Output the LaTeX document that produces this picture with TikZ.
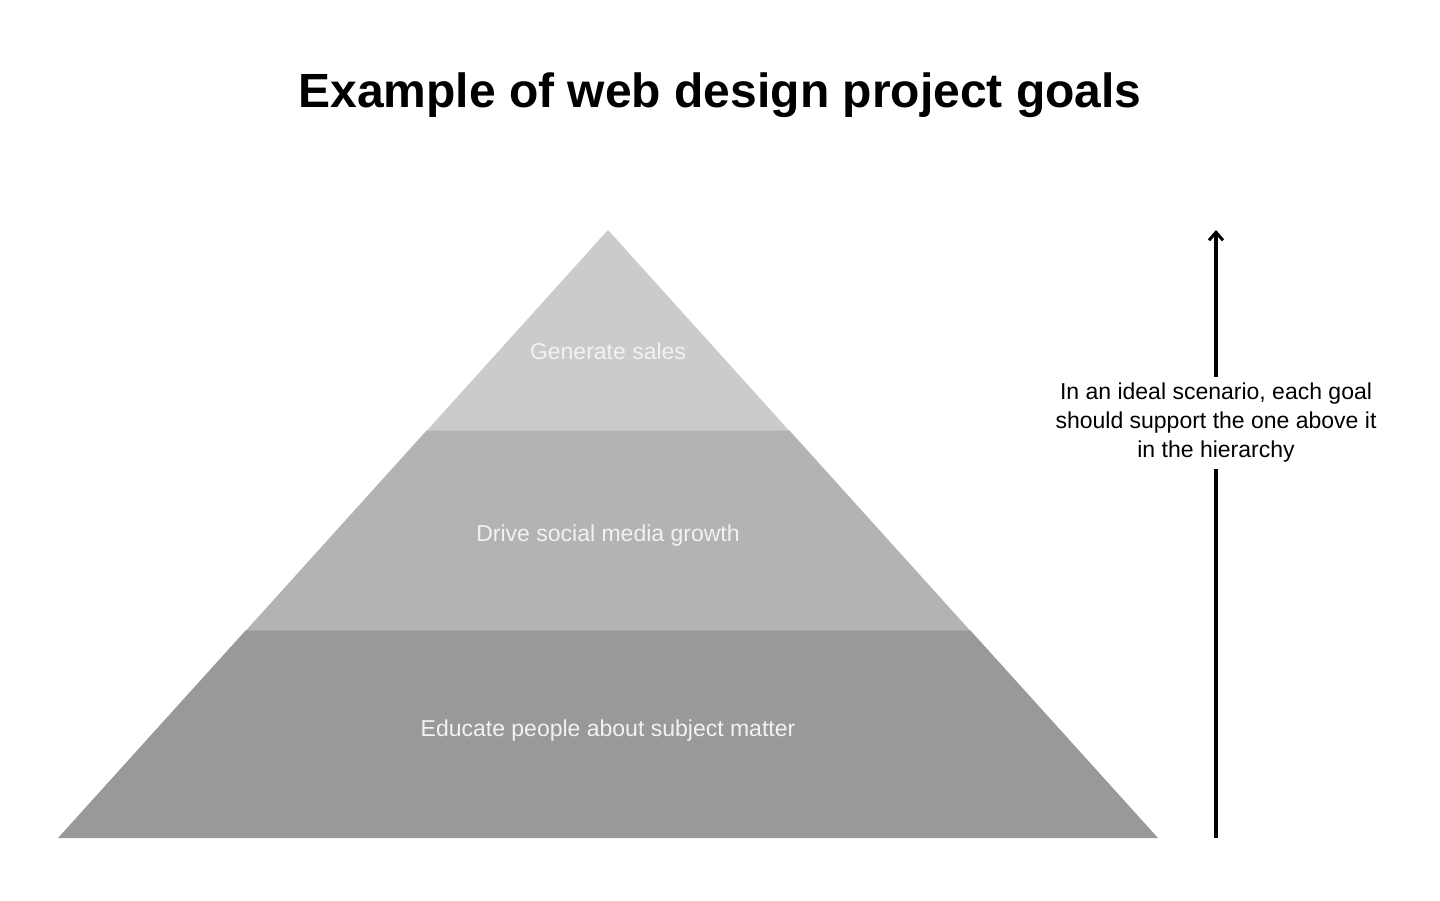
\documentclass[tikz,border=0pt]{standalone}
\usepackage{fontspec}
\setmainfont{Liberation Sans}
\usetikzlibrary{positioning, arrows.meta}
\definecolor{tiertop}{HTML}{CBCBCB}
\definecolor{tiermid}{HTML}{B3B3B3}
\definecolor{tierlow}{HTML}{999999}
\tikzset{
	x=0.5pt, y=-0.5pt, % pixel grid, origin top left
	tier label/.style={text=white!95!black, font=\fontsize{11.5}{14}\selectfont},
	note/.style={align=center, inner xsep=2pt, inner ysep=4.5pt, font=\fontsize{11.5}{14.5}\selectfont},
	flow/.style={line width=1.7pt, -{Straight Barb[length=4pt, width=7pt, line width=1.5pt]}},
}
\begin{document}
\begin{tikzpicture}
	\useasboundingbox[fill=white] (0,0) rectangle (1440,900);
	% pyramid tiers
	\fill[tierlow] (58,838) -- (1158,838) -- (970,630) -- (246,630) -- cycle;
	\fill[tiermid] (246,630.5) -- (970,630.5) -- (789,430) -- (427,430) -- cycle;
	\fill[tiertop] (427,430.5) -- (789,430.5) -- (608,230) -- cycle;
	\node[font=\fontsize{24}{28}\bfseries] (title) at (720,95) {Example of web design project goals};
	\node[tier label] (sales) at (608,351) {Generate sales};
	\node[tier label] (social) at (608,536) {Drive social media growth};
	\node[tier label] (educate) at (608,731) {Educate people about subject matter};
	\node[note, inner ysep=3pt] (hint) at (1216,423) {In an ideal scenario, each goal\\should support the one above it\\in the hierarchy};
	\coordinate (base) at (1216,838);
	\coordinate (peak) at (1216,230);
	\draw[line width=1.7pt] (base) -- (hint.south);
	\draw[flow] (hint.north) -- (peak);
\end{tikzpicture}
\end{document}
